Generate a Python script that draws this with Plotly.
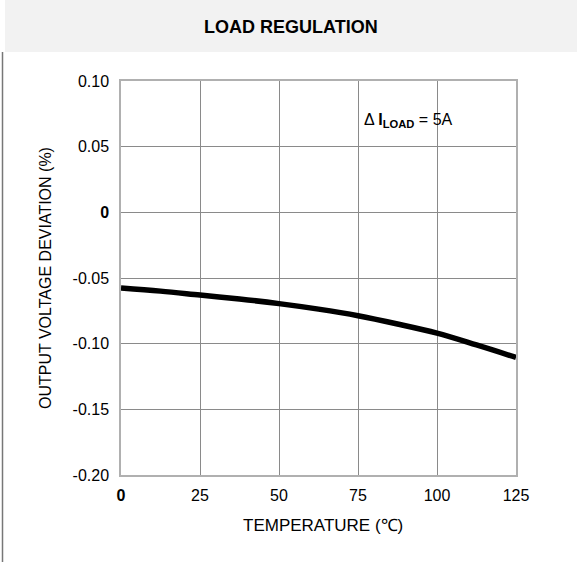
import plotly.graph_objects as go

temps = [0, 12.5, 25, 37.5, 50, 62.5, 75, 87.5, 100, 112.5, 125]
deviation = [-0.0576, -0.0600, -0.0630, -0.0660, -0.0695, -0.0737, -0.0787, -0.0850, -0.0920, -0.1010, -0.1105]

x_ticks = [0, 25, 50, 75, 100, 125]
x_ticktext = ["<b>0</b>", "25", "50", "75", "100", "125"]
y_ticks = [-0.20, -0.15, -0.10, -0.05, 0, 0.05, 0.10]
y_ticktext = ["-0.20", "-0.15", "-0.10", "-0.05", "<b>0</b>", "0.05", "0.10"]

W, H = 577, 562
L, R, T, B = 121, 61, 81, 87
pw, ph = W - L - R, H - T - B

def px(x):
    return (x - L) / pw

def py(y):
    return (H - B - y) / ph

fig = go.Figure()
fig.add_trace(go.Scatter(x=temps, y=deviation, mode="lines",
                         line=dict(color="black", width=5.5, shape="spline"),
                         hoverinfo="skip", showlegend=False))

font_main = "Liberation Sans, Arial, sans-serif"
font_narrow = "Liberation Sans Narrow, Arial Narrow, Liberation Sans, sans-serif"

fig.update_layout(
    width=W, height=H,
    margin=dict(l=L, r=R, t=T, b=B),
    paper_bgcolor="white", plot_bgcolor="white",
    font=dict(family=font_main, size=16, color="black"),
    xaxis=dict(range=[0, 125], tickvals=x_ticks, ticktext=x_ticktext,
               showgrid=True, gridcolor="#8a8a8a", gridwidth=1,
               showline=True, linecolor="#b0b0b0", linewidth=1.5, mirror=True,
               zeroline=False, ticks="", ticklabelstandoff=5),
    yaxis=dict(range=[-0.20, 0.10], tickvals=y_ticks, ticktext=y_ticktext,
               showgrid=True, gridcolor="#8a8a8a", gridwidth=1,
               showline=True, linecolor="#b0b0b0", linewidth=1.5, mirror=True,
               zeroline=False, ticks="", ticklabelstandoff=7),
    shapes=[
        dict(type="rect", xref="paper", yref="paper", x0=px(5), x1=px(577),
             y0=py(52), y1=py(0), fillcolor="#f2f2f2", line=dict(width=0), layer="below"),
        dict(type="line", xref="paper", yref="paper", x0=px(2.5), x1=px(2.5),
             y0=py(52), y1=py(562), line=dict(color="#777777", width=1.5)),
    ],
    annotations=[
        dict(text="<b>LOAD REGULATION</b>", xref="paper", yref="paper",
             x=px(291), y=py(27), xanchor="center", yanchor="middle", showarrow=False,
             font=dict(family=font_narrow, size=18)),
        dict(text="TEMPERATURE (℃)", xref="paper", yref="paper",
             x=px(323), y=py(525), xanchor="center", yanchor="middle", showarrow=False,
             font=dict(family=font_narrow, size=17)),
        dict(text="OUTPUT VOLTAGE DEVIATION (%)", xref="paper", yref="paper",
             x=px(45), y=0.5, xanchor="center", yanchor="middle", textangle=-90,
             showarrow=False, font=dict(family=font_main, size=16)),
        dict(text="Δ <b>I</b><sub><b>LOAD</b></sub> = 5A", xref="x", yref="y",
             x=91, y=0.070, xanchor="center", yanchor="middle", showarrow=False,
             font=dict(family=font_main, size=16)),
    ],
)

fig.write_html("out.html")
